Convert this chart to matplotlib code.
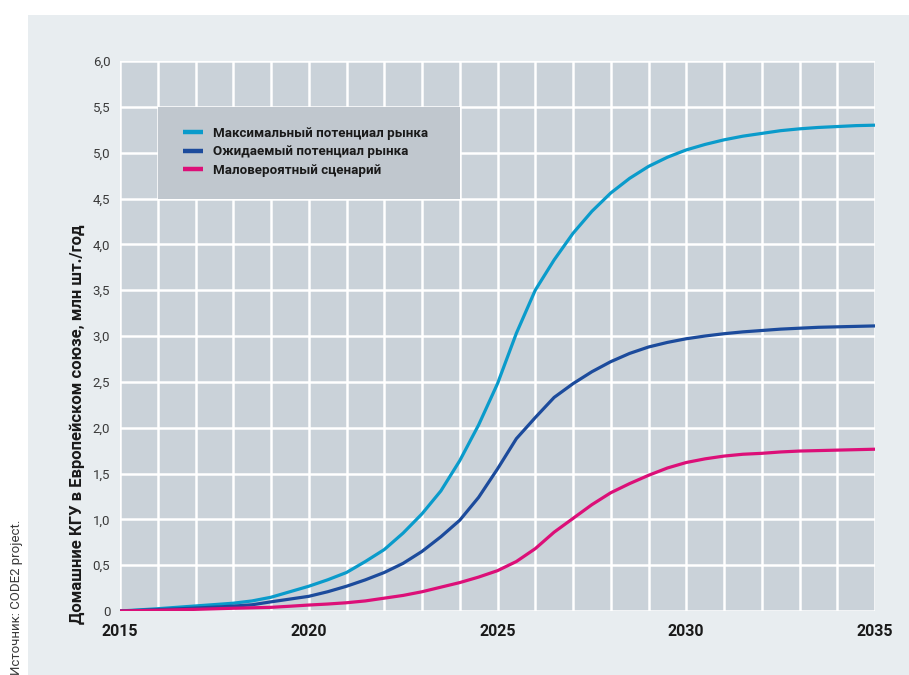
import matplotlib.pyplot as plt
from matplotlib.patches import Rectangle

# Forecast values, read every half year from 2015 to 2035
years = [2015 + 0.5 * i for i in range(41)]

max_potential = [
    0.0, 0.012, 0.025, 0.04, 0.055, 0.07, 0.085, 0.11, 0.15, 0.21,
    0.27, 0.34, 0.42, 0.54, 0.67, 0.85, 1.06, 1.31, 1.64, 2.03,
    2.48, 3.03, 3.5, 3.83, 4.12, 4.36, 4.56, 4.72, 4.85, 4.95,
    5.03, 5.09, 5.14, 5.18, 5.21, 5.24, 5.26, 5.275, 5.285, 5.295, 5.3,
]
expected_potential = [
    0.0, 0.007, 0.015, 0.023, 0.032, 0.042, 0.053, 0.068, 0.1, 0.13,
    0.16, 0.21, 0.27, 0.34, 0.42, 0.52, 0.65, 0.81, 0.99, 1.24,
    1.55, 1.88, 2.11, 2.33, 2.48, 2.61, 2.72, 2.81, 2.88, 2.93,
    2.97, 3.0, 3.025, 3.045, 3.06, 3.075, 3.085, 3.095, 3.1, 3.105, 3.11,
]
unlikely_scenario = [
    0.0, 0.004, 0.008, 0.013, 0.018, 0.024, 0.03, 0.035, 0.04, 0.052,
    0.065, 0.076, 0.09, 0.11, 0.14, 0.17, 0.21, 0.26, 0.31, 0.37,
    0.44, 0.54, 0.68, 0.86, 1.01, 1.16, 1.29, 1.39, 1.48, 1.56,
    1.62, 1.66, 1.69, 1.71, 1.72, 1.735, 1.745, 1.75, 1.755, 1.76, 1.765,
]

series_labels = [
    "Максимальный потенциал рынка",
    "Ожидаемый потенциал рынка",
    "Маловероятный сценарий",
]
series_colors = ["#0a9bcb", "#1c4b9c", "#dc0f78"]

x_ticks = [2015, 2020, 2025, 2030, 2035]
y_ticks = [0, 0.5, 1, 1.5, 2, 2.5, 3, 3.5, 4, 4.5, 5, 5.5, 6]
y_tick_labels = ["0", "0,5", "1,0", "1,5", "2,0", "2,5", "3,0",
                 "3,5", "4,0", "4,5", "5,0", "5,5", "6,0"]

plt.rcParams["font.family"] = ["Roboto", "DejaVu Sans"]

fig = plt.figure(figsize=(9.09, 6.75), dpi=100)
fig.patch.set_facecolor("white")

# light grey panel behind the chart
fig.patches.append(
    Rectangle((28 / 909, 0), 1, 660 / 675, transform=fig.transFigure,
              facecolor="#e8edf0", edgecolor="none", zorder=-1)
)

ax = fig.add_axes([120 / 909, 64 / 675, 755 / 909, 550 / 675])
ax.set_zorder(1)
ax.set_facecolor("#cad2d9")

ax.set_xlim(2015, 2035)
ax.set_ylim(0, 6)

# white grid: every year and every 0.5
for yr in range(2015, 2036):
    ax.axvline(yr, color="white", lw=1.8, zorder=1)
for v in y_ticks:
    ax.axhline(v, color="white", lw=1.8, zorder=1)

# darker box under the legend
ax.add_patch(Rectangle((2016, 4.5), 8, 1, facecolor="#c0c7ce",
                       edgecolor="none", zorder=1.5))

for values, label, color in zip(
    [max_potential, expected_potential, unlikely_scenario],
    series_labels, series_colors,
):
    ax.plot(years, values, color=color, lw=2.3, label=label,
            solid_capstyle="butt", solid_joinstyle="round", zorder=3)

for s in ax.spines.values():
    s.set_visible(False)

ax.set_xticks(x_ticks)
ax.set_xticklabels([str(t) for t in x_ticks], fontsize=11.5,
                   fontweight="bold", color="#1a1a1a")
ax.set_yticks(y_ticks)
ax.set_yticklabels(y_tick_labels, fontsize=9.5, color="#3a3a3a")
ax.tick_params(axis="both", length=0)
ax.tick_params(axis="x", pad=9)
ax.tick_params(axis="y", pad=7)

ax.set_ylabel("Домашние КГУ в Европейском союзе, млн шт./год",
              fontsize=12, fontweight="bold", color="#1a1a1a")
ax.yaxis.set_label_coords(-0.046, 0.34)

leg = ax.legend(loc="upper left", bbox_to_anchor=(0.068, 0.902),
                frameon=False, fontsize=9.6, handlelength=1.5,
                handletextpad=0.7, labelspacing=0.42)
for text in leg.get_texts():
    text.set_fontweight("bold")
    text.set_color("#1a1a1a")
for line in leg.get_lines():
    line.set_linewidth(3.2)

fig.text(0.011, 0.0, "Источник: CODE2 project.", rotation=90,
         fontsize=9.5, color="#3a3a3a", ha="left", va="bottom")

fig.savefig("out.png", dpi=100)
